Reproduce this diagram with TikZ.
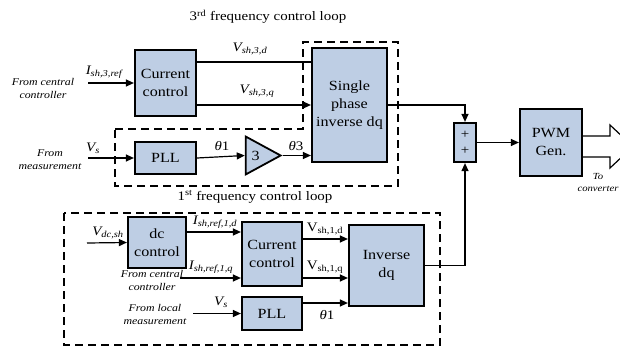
\documentclass[tikz,border=0pt]{standalone}
\usepackage{fontspec}
\setmainfont{Liberation Serif}[FakeStretch=1.15]
\usepackage{tikz}
\usetikzlibrary{arrows.meta, shapes.geometric}
\definecolor{blkfill}{RGB}{190,206,228}

\tikzset{
  blk/.style={draw, line width=2.2pt, fill=blkfill, align=center, inner sep=0pt,
              font=\fontsize{14}{18}\selectfont},
  sig/.style={line width=1.2pt, -{Triangle[length=8pt,width=7pt]}},
  wire/.style={line width=1.2pt},
  loopbox/.style={line width=1.3pt, dash pattern=on 8pt off 5pt},
  lbl/.style={font=\fontsize{13}{14}\selectfont\itshape, inner sep=0pt},
  vlbl/.style={font=\fontsize{13}{14}\selectfont, inner sep=0pt},
  src/.style={font=\fontsize{10.3}{13}\selectfont\itshape, align=center, inner sep=0pt},
  ttl/.style={font=\fontsize{13}{14}\selectfont, inner sep=0pt}
}

\begin{document}
\begin{tikzpicture}[x=1pt, y=-1pt]
  \useasboundingbox (0,0) rectangle (620,350);
  % lazos
  \draw[loopbox] (115,129) -- (303,129) -- (303,42) -- (398,42) -- (398,186)
    -- (115,186) -- cycle;
  \draw[loopbox] (64,213) rectangle (440,345);
  \node[ttl] (t3) at (268,17) {3\textsuperscript{rd} frequency control loop};
  \node[ttl] (t1) at (255,197) {1\textsuperscript{st} frequency control loop};
  % bloques (3a)
  \node[blk, minimum width=61, minimum height=66] (cc3) at (165.5,83) {Current\\control};
  \node[blk, minimum width=61, minimum height=32] (pll3) at (165.5,158) {PLL};
  \node[blk, isosceles triangle, isosceles triangle stretches, line width=1.8pt,
        minimum width=38, minimum height=35, anchor=apex] (g3) at (283,155.5) {3};
  \node[blk, minimum width=75, minimum height=114] (sp) at (349.5,105)
    {Single\\phase\\inverse dq};
  \node[blk, minimum width=22, minimum height=39, font=\fontsize{13}{16}\selectfont]
    (sum) at (465,142.5) {+\\+};
  \node[blk, minimum width=62, minimum height=67] (pwm) at (551,142.5) {PWM\\Gen.};
  % bloques (1a)
  \node[blk, minimum width=58, minimum height=51] (dc) at (157,242.5) {dc\\control};
  \node[blk, minimum width=60, minimum height=64] (cc1) at (272,254) {Current\\control};
  \node[blk, minimum width=60, minimum height=33] (pll1) at (272,313.5) {PLL};
  \node[blk, minimum width=75, minimum height=81] (inv) at (386.5,265.5) {Inverse\\dq};
  % entradas
  \node[src] (cen3) at (43,88) {From central\\controller};
  \node[src] (mea3) at (50,160) {From\\measurement};
  \node[src] (cen1) at (152,280) {From central\\controller};
  \node[src] (mea1) at (155,314) {From local\\measurement};
  \node[src, font=\fontsize{9.3}{12}\selectfont\itshape] (conv) at (598,182) {To\\converter};
  \coordinate (in3) at (88,83);
  \coordinate (vin3) at (88,158);
  \coordinate (vdc) at (87,243);
  \coordinate (irq) at (180,278);
  \coordinate (vin1) at (193,313.5);
  % se\~nales (3a)
  \draw[sig] (in3) -- (cc3.west);
  \node[lbl] (iref3) at (104,72) {I\textsubscript{sh,3,ref}};
  \draw[wire] (cc3.east |- 0,62) -- (sp.west |- 0,62);
  \node[lbl] (vd3) at (250,49) {V\textsubscript{sh,3,d}};
  \draw[sig] (cc3.east |- 0,105) -- (sp.west |- 0,105);
  \node[lbl] (vq3) at (257,91) {V\textsubscript{sh,3,q}};
  \draw[sig] (vin3) -- (pll3.west);
  \node[lbl] (vs3) at (93,148) {V\textsubscript{s}};
  \draw[sig] (pll3.east) -- (g3.west);
  \node[vlbl] (th1) at (222,146) {\textit{θ}1};
  \draw[sig] (g3.apex) -- (sp.west |- g3.apex);
  \node[vlbl] (th3) at (296,146) {\textit{θ}3};
  % suma y PWM
  \draw[sig] (sp.east) -| (sum.north);
  \draw[sig] (inv.east) -| (sum.south);
  \draw[sig] (sum.east) -- (pwm.west);
  \draw[wire, line join=miter] (pwm.east |- 0,136) -- (610,136) -- (610,125)
    -- (633,146.5) -- (610,168) -- (610,157) -- (pwm.east |- 0,157);
  % se\~nales (1a)
  \draw[sig] (vdc) -- (dc.west);
  \node[lbl] (vdcl) at (108,233) {V\textsubscript{dc,sh}};
  \draw[sig] (dc.east |- 0,232) -- (cc1.west |- 0,232);
  \node[lbl] (ird) at (215,222) {I\textsubscript{sh,ref,1,d}};
  \draw[sig] (irq) -- (cc1.west |- irq);
  \node[lbl] (irql) at (211,267) {I\textsubscript{sh,ref,1,q}};
  \draw[sig] (vin1) -- (pll1.west);
  \node[lbl] (vs1) at (221,302) {V\textsubscript{s}};
  \draw[sig] (cc1.east |- 0,239) -- (inv.west |- 0,239);
  \node[vlbl] (vd1) at (325,229) {V\textsubscript{sh,1,d}};
  \draw[sig] (cc1.east |- 0,278) -- (inv.west |- 0,278);
  \node[vlbl] (vq1) at (325,267) {V\textsubscript{sh,1,q}};
  \draw[sig] (pll1.east |- 0,303) -- (inv.west |- 0,303);
  \node[vlbl] (th1b) at (327,315) {\textit{θ}1};
\end{tikzpicture}
\end{document}
